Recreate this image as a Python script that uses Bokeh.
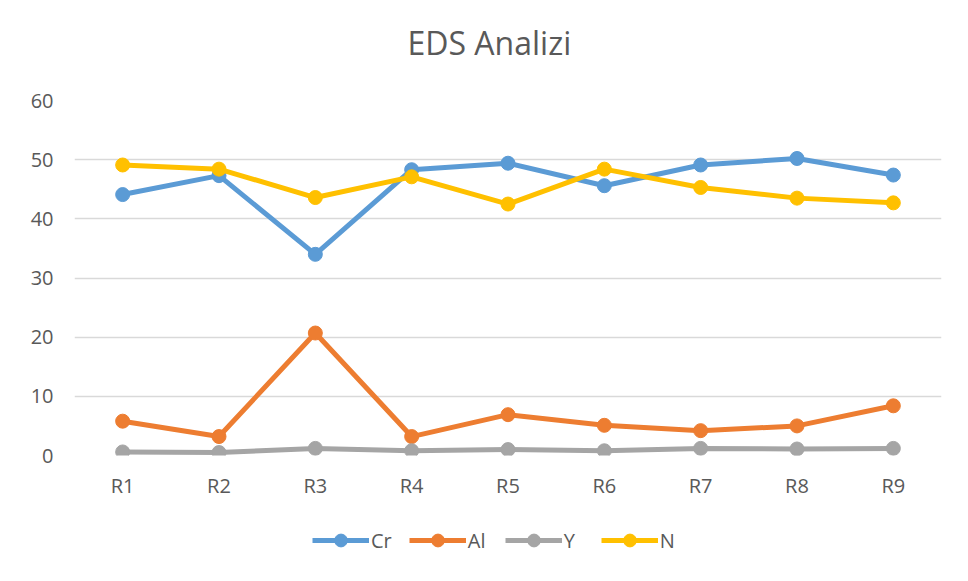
from bokeh.plotting import figure
from bokeh.layouts import column
from bokeh.models import FactorRange, Range1d, Legend, LegendItem, FixedTicker
from bokeh.embed import file_html
from bokeh.resources import INLINE

categories = ["R1", "R2", "R3", "R4", "R5", "R6", "R7", "R8", "R9"]
cr = [44.1, 47.3, 34.0, 48.3, 49.4, 45.6, 49.1, 50.2, 47.4]
al = [5.8, 3.2, 20.7, 3.2, 6.9, 5.1, 4.2, 5.0, 8.4]
y_el = [0.6, 0.5, 1.2, 0.8, 1.0, 0.8, 1.2, 1.1, 1.2]
n = [49.1, 48.4, 43.6, 47.1, 42.5, 48.4, 45.3, 43.5, 42.7]
y_ticks = [0, 10, 20, 30, 40, 50, 60]
series_names = ["Cr", "Al", "Y", "N"]
colors = ["#5B9BD5", "#ED7D31", "#A5A5A5", "#FFC000"]
title_text = "EDS Analizi"

FONT = "Open Sans"
TXT = "#595959"


def strip(height):
    f = figure(width=960, height=height, x_range=Range1d(0, 1), y_range=Range1d(0, 1),
               output_backend="svg", toolbar_location=None,
               min_border_left=0, min_border_right=0, min_border_top=0, min_border_bottom=0)
    f.axis.visible = False
    f.grid.grid_line_color = None
    f.outline_line_color = None
    return f


# title strip
p0 = strip(88)
p0.title.text = title_text
p0.title.align = "left"
p0.title.offset = 333
p0.title.text_font = FONT
p0.title.text_font_size = "32px"
p0.title.text_font_style = "normal"
p0.title.text_color = TXT
p0.title.standoff = 36

# main chart
p = figure(width=960, height=417, x_range=FactorRange(*categories), y_range=Range1d(0, 60),
           output_backend="svg", toolbar_location=None,
           min_border_left=74, min_border_right=19, min_border_top=12, min_border_bottom=50)
p.outline_line_color = None
p.xgrid.grid_line_color = None
p.ygrid.grid_line_color = "#D9D9D9"
p.ygrid.grid_line_width = 1.5
p.yaxis.ticker = FixedTicker(ticks=y_ticks)
for ax in (p.xaxis, p.yaxis):
    ax.axis_line_color = None
    ax.major_tick_line_color = None
    ax.minor_tick_line_color = None
    ax.major_tick_out = 0
    ax.major_tick_in = 0
    ax.major_label_text_font = FONT
    ax.major_label_text_font_size = "20px"
    ax.major_label_text_color = TXT
p.xaxis.major_label_standoff = 16
p.yaxis.major_label_standoff = 21

for name, vals, c in zip(series_names, [cr, al, y_el, n], colors):
    p.line(categories, vals, line_color=c, line_width=5)
    p.scatter(categories, vals, size=14, fill_color=c, line_color=c)

# legend strip below the chart (its sample renderers sit outside the visible range)
p2 = strip(70)
items = []
for name, c in zip(series_names, colors):
    l = p2.line([5, 6], [5, 6], line_color=c, line_width=5)
    s = p2.scatter([5], [5], size=14, fill_color=c, line_color=c)
    items.append(LegendItem(label=name, renderers=[l, s]))
legend = Legend(items=items, orientation="horizontal", location=(238, 19),
                label_text_font=FONT, label_text_font_size="20px", label_text_color=TXT,
                glyph_width=57, glyph_height=32, label_standoff=2, spacing=17,
                border_line_color=None, background_fill_alpha=0, margin=0, padding=0)
p2.add_layout(legend, "center")

layout = column(p0, p, p2, spacing=0)
open("out.html", "w").write(file_html(layout, INLINE))
